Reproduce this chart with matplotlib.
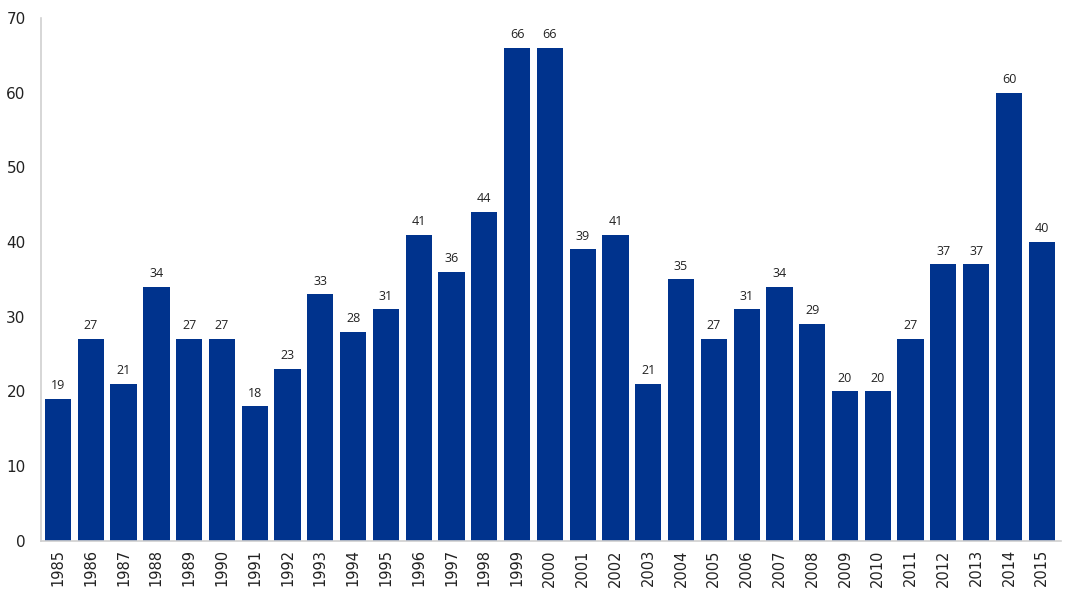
""" Bar chart of yearly counts, 1985-2015. """

import numpy as np
import matplotlib
matplotlib.use('Agg')
import matplotlib.pyplot as plt

###########
# Data    #
###########
years = list(range(1985, 2016))
counts = [19, 27, 21, 34, 27, 27, 18, 23, 33, 28, 31, 41, 36, 44, 66, 66,
          39, 41, 21, 35, 27, 31, 34, 29, 20, 20, 27, 37, 37, 60, 40]
yticks = [0, 10, 20, 30, 40, 50, 60, 70]

bar_color = '#00338D'

fig = plt.figure(figsize=(10.78, 5.95), dpi=100)
ax = fig.add_axes([0.038, 0.091, 0.946, 0.879])

x = np.arange(len(years))
ax.bar(x, counts, width=0.8, color=bar_color)

# Value labels above the bars
for xi, v in zip(x, counts):
    ax.text(xi, v + 0.9, str(v), ha='center', va='bottom',
            fontsize=9, color='#222222', family='Open Sans')

ax.set_xlim(-0.52, len(years) - 0.42)
ax.set_ylim(0, 70)
ax.set_yticks(yticks)
ax.set_xticks(x)
ax.set_xticklabels([str(y) for y in years], rotation=90)

ax.tick_params(axis='y', length=0, pad=11, labelsize=11, labelcolor='#222222')
ax.tick_params(axis='x', length=0, pad=6, labelsize=10.5, labelcolor='#222222')

for side in ['top', 'right']:
    ax.spines[side].set_visible(False)
for side in ['left', 'bottom']:
    ax.spines[side].set_color('#d0d0d0')
    ax.spines[side].set_linewidth(1.2)

plt.savefig('out.png', dpi=100)
